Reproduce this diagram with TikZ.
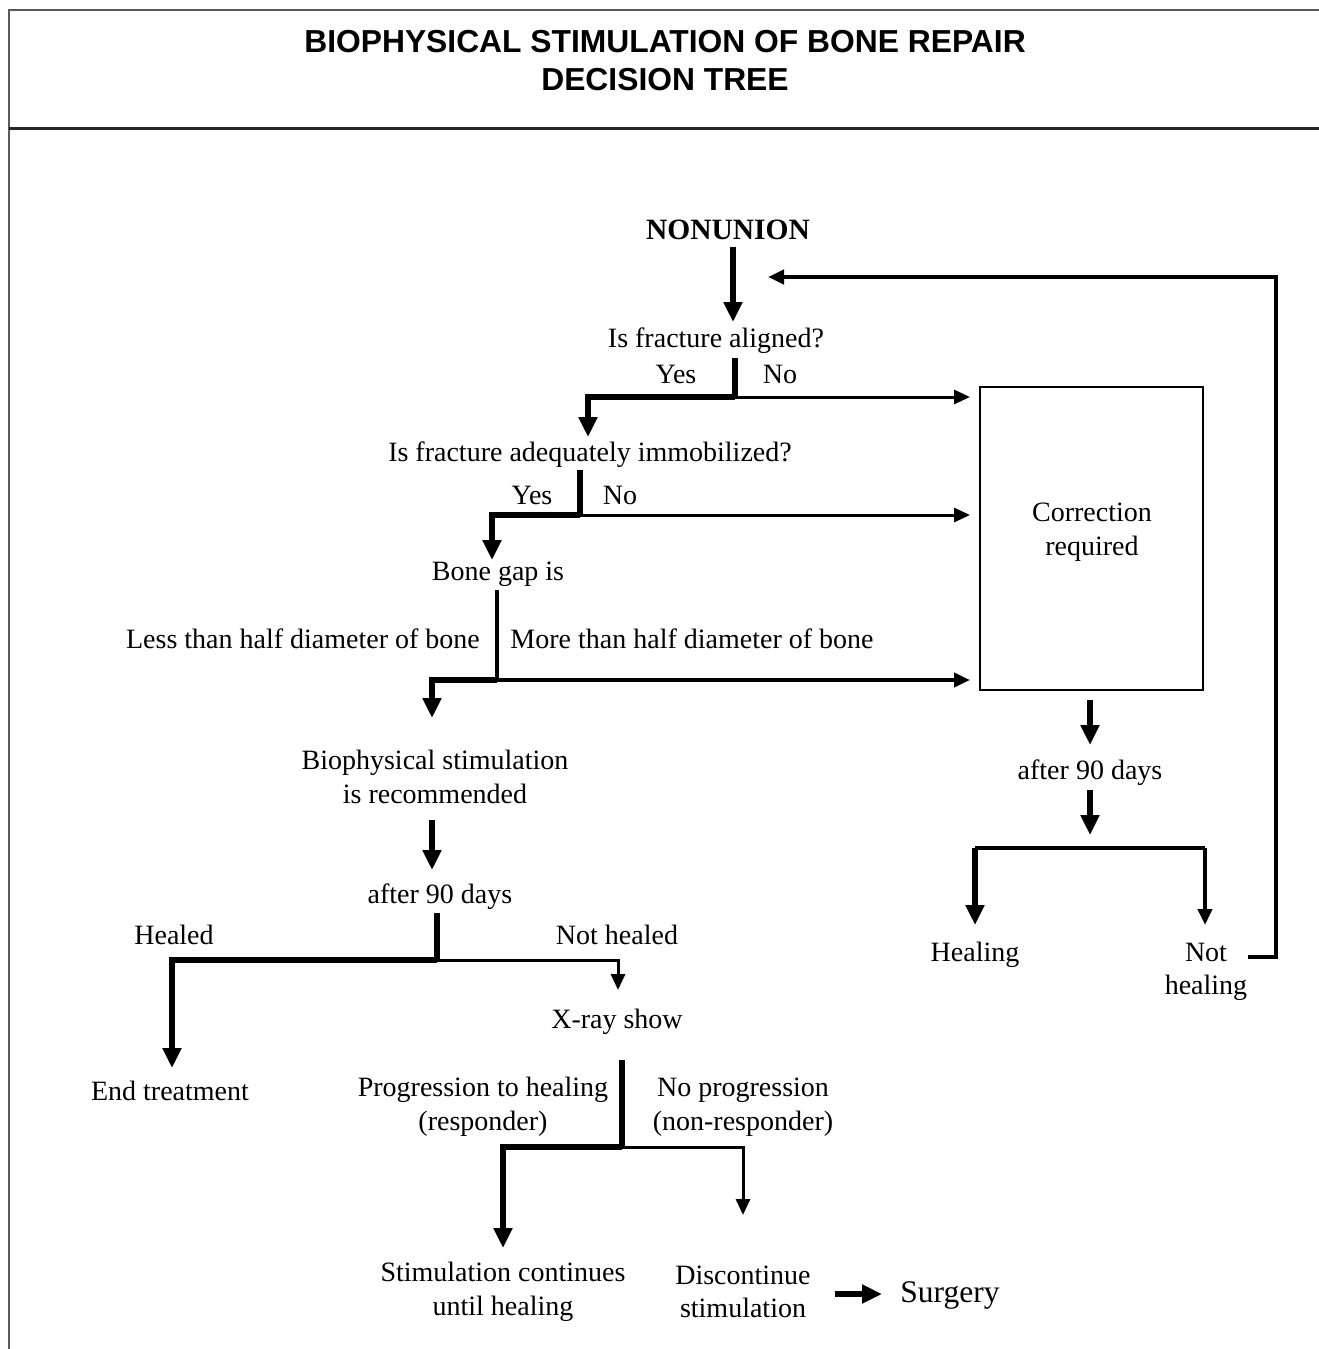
\documentclass[tikz,border=0pt]{standalone}
\usepackage{fontspec}
\setmainfont{Liberation Serif}
\newfontfamily\titlefont{Liberation Sans}
\usetikzlibrary{arrows.meta}
\begin{document}
\begin{tikzpicture}[x=1pt,y=-1pt,
  txt/.style={inner sep=0pt,anchor=center,align=center,font=\fontsize{28}{33.5}\selectfont},
  thk/.style={line width=5.5pt,line join=miter},
  thn/.style={line width=3pt,line join=miter},
  med/.style={line width=4pt,line join=miter},
  bigtip/.style={-{Triangle[width=18pt,length=20pt]}},
  smalltip/.style={-{Triangle[width=14pt,length=16pt]}},
  frame/.style={draw=black!65,line width=1.5pt}
]
\useasboundingbox (0,0) rectangle (1319,1349);
% frame
\draw[frame] (9,1349) -- (9,10) -- (1319,10);
\draw[draw=black!85,line width=3pt] (9,128) -- (1319,128);
% title
\node[inner sep=0pt,align=center,font=\titlefont\bfseries\fontsize{31.8}{38}\selectfont] (title) at (665,61)
  {BIOPHYSICAL STIMULATION OF BONE REPAIR\\DECISION TREE};
% text nodes
\node[txt,font=\bfseries\fontsize{29.5}{33}\selectfont] (nonunion) at (728,230) {NONUNION};
\node[txt] (q1) at (716,341) {Is fracture aligned?};
\node[txt] (yes1) at (676,374) {Yes};
\node[txt] (no1) at (780,374) {No};
\node[txt] (q2) at (590,455) {Is fracture adequately immobilized?};
\node[txt] (yes2) at (532,495) {Yes};
\node[txt] (no2) at (620,495) {No};
\node[txt] (gap) at (498,574) {Bone gap is};
\node[txt] (less) at (303,639) {Less than half diameter of bone};
\node[txt] (more) at (692,639) {More than half diameter of bone};
\node[draw,line width=1.8pt,minimum width=223pt,minimum height=303pt,inner sep=0pt] (box) at (1091.5,538.5) {};
\node[txt] (corr) at (1092,532) {Correction\\required};
\node[txt] (after90r) at (1090,773) {after 90 days};
\node[txt] (healing) at (975,955) {Healing};
\node[txt] (nothealing) at (1206,972) {Not\\healing};
\node[txt] (biostim) at (435,777) {Biophysical stimulation\\is recommended};
\node[txt] (after90l) at (440,897) {after 90 days};
\node[txt] (healed) at (174,935) {Healed};
\node[txt] (nothealed) at (617,935) {Not healed};
\node[txt] (xray) at (617,1022) {X-ray show};
\node[txt] (endtr) at (170,1091) {End treatment};
\node[txt] (prog) at (483,1107) {Progression to healing\\(responder)};
\node[txt] (noprog) at (743,1107) {No progression\\(non-responder)};
\node[txt] (stimcont) at (503,1292) {Stimulation continues\\until healing};
\node[txt] (discont) at (743,1292) {Discontinue\\stimulation};
\node[txt,font=\fontsize{31.5}{35}\selectfont] (surgery) at (950,1295) {Surgery};
% coordinates
\coordinate (a0) at (733,247); \coordinate (a1) at (733,322);
\coordinate (f0) at (1248,957); \coordinate (f1) at (1276,957); \coordinate (f2) at (1276,277); \coordinate (f3) at (768,277);
\coordinate (b0) at (735,358); \coordinate (b1) at (735,397); \coordinate (b2) at (588,397); \coordinate (b3) at (588,437); \coordinate (b4) at (970,397);
\coordinate (c0) at (580,470); \coordinate (c1) at (580,515); \coordinate (c2) at (492,515); \coordinate (c3) at (492,560); \coordinate (c4) at (970,515);
\coordinate (d0) at (497,590); \coordinate (d1) at (497,680); \coordinate (d2) at (432,680); \coordinate (d3) at (432,718); \coordinate (d4) at (970,680);
\coordinate (e0) at (1090,700); \coordinate (e1) at (1090,745); \coordinate (e2) at (1090,790); \coordinate (e3) at (1090,835);
\coordinate (g0) at (975,848); \coordinate (g1) at (1205,848); \coordinate (g2) at (975,925); \coordinate (g3) at (1205,925);
\coordinate (h0) at (432,820); \coordinate (h1) at (432,870);
\coordinate (i0) at (437,913); \coordinate (i1) at (437,960); \coordinate (i2) at (172,960); \coordinate (i3) at (172,1068); \coordinate (i4) at (618,960); \coordinate (i5) at (618,990);
\coordinate (k0) at (622,1060); \coordinate (k1) at (622,1147); \coordinate (k2) at (503,1147); \coordinate (k3) at (503,1248); \coordinate (k4) at (743,1147); \coordinate (k5) at (743,1215);
\coordinate (s0) at (835,1294); \coordinate (s1) at (882,1294);
% connectors
\draw[thk,bigtip] (a0) -- (a1);
\draw[med,smalltip] (f0) -- (f1) -- (f2) -- (f3);
\draw[thk] (b0) -- (b1);
\draw[thk,bigtip] (b1) -- (b2) -- (b3);
\draw[thn,smalltip] (b1) -- (b4);
\draw[thk] (c0) -- (c1);
\draw[thk,bigtip] (c1) -- (c2) -- (c3);
\draw[thn,smalltip] (c1) -- (c4);
\draw[med] (d0) -- (d1);
\draw[thk,bigtip] (d1) -- (d2) -- (d3);
\draw[med,smalltip] (d1) -- (d4);
\draw[thk,bigtip] (e0) -- (e1);
\draw[thk,bigtip] (e2) -- (e3);
\draw[med] (g0) -- (g1);
\draw[thk,bigtip] (g0) -- (g2);
\draw[med,smalltip] (g1) -- (g3);
\draw[thk,bigtip] (h0) -- (h1);
\draw[thk] (i0) -- (i1);
\draw[thk,bigtip] (i1) -- (i2) -- (i3);
\draw[thn,smalltip] (i1) -- (i4) -- (i5);
\draw[thk] (k0) -- (k1);
\draw[thk,bigtip] (k1) -- (k2) -- (k3);
\draw[thn,smalltip] (k1) -- (k4) -- (k5);
\draw[thk,bigtip] (s0) -- (s1);
\end{tikzpicture}
\end{document}
